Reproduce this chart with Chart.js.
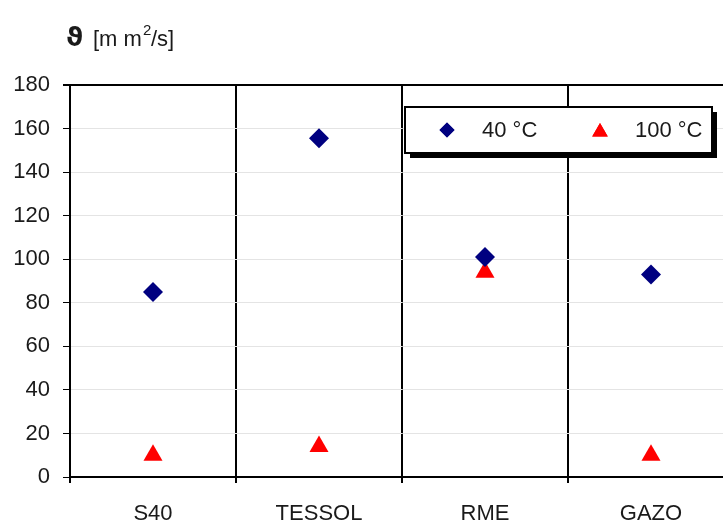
<!DOCTYPE html>
<html>
<head>
<meta charset="utf-8">
<script src="https://cdn.jsdelivr.net/npm/chart.js@4"></script>
<style>
  html, body { margin: 0; padding: 0; background: #fff; overflow: hidden; }
  #wrap { width: 745px; height: 523px; }
</style>
</head>
<body>
<div id="wrap"><canvas id="chart" width="745" height="523"></canvas></div>
<script>
const fuels = ['S40', 'TESSOL', 'RME', 'GAZO'];
const visc40 = [85, 155.5, 101, 93];
const visc100 = [10, 14, 94, 10];
const yTicks = [0, 20, 40, 60, 80, 100, 120, 140, 160, 180];

const FONT = 'Liberation Sans, Arial, sans-serif';

// y label above the axis + the framed legend with its drop shadow
const extras = {
    id: 'extras',
    afterDraw(chart) {
        const ctx = chart.ctx;
        ctx.save();
        ctx.fillStyle = '#1a1a1a';
        ctx.textBaseline = 'alphabetic';
        ctx.textAlign = 'left';
        ctx.font = 'bold 26px DejaVu Sans, ' + FONT;
        ctx.fillText('\u03D1', 66, 46);
        ctx.font = '22px ' + FONT;
        ctx.fillText('[m m', 93, 46);
        let w = ctx.measureText('[m m').width;
        ctx.font = '15px ' + FONT;
        ctx.fillText('2', 93 + w + 1, 35);
        ctx.font = '22px ' + FONT;
        ctx.fillText('/s]', 93 + w + 9, 46);

        // legend box
        const bx = 405, by = 107, bw = 307, bh = 46;
        ctx.fillStyle = '#000';
        ctx.fillRect(bx + 5, by + 5, bw, bh);
        ctx.fillStyle = '#fff';
        ctx.fillRect(bx, by, bw, bh);
        ctx.lineWidth = 2;
        ctx.strokeStyle = '#000';
        ctx.strokeRect(bx, by, bw, bh);

        const ds = chart.data.datasets;
        const items = [
            { x: 447, tx: 482, r: 7.5, d: ds[0] },
            { x: 600, tx: 635, r: 9, d: ds[1] }
        ];
        const cy = by + bh / 2;
        items.forEach(it => {
            ctx.fillStyle = it.d.backgroundColor;
            Chart.helpers.drawPoint(ctx, { pointStyle: it.d.pointStyle, radius: it.r, borderWidth: 0, rotation: 0 }, it.x, it.d.pointStyle === 'triangle' ? cy + 2 : cy);
            ctx.fill();
            ctx.fillStyle = '#1a1a1a';
            ctx.font = '22px ' + FONT;
            ctx.textBaseline = 'middle';
            ctx.fillText(it.d.label, it.tx, cy + 1);
        });
        ctx.restore();
    }
};

new Chart(document.getElementById('chart'), {
    type: 'line',
    data: {
        labels: fuels,
        datasets: [
            {
                label: '40 °C',
                data: visc40,
                showLine: false,
                pointStyle: 'rectRot',
                pointRadius: 10,
                pointBorderWidth: 0,
                backgroundColor: '#000080',
                borderColor: '#000080'
            },
            {
                label: '100 °C',
                data: visc100,
                showLine: false,
                pointStyle: 'triangle',
                pointRadius: 11,
                pointBorderWidth: 0,
                backgroundColor: '#ff0000',
                borderColor: '#ff0000'
            }
        ]
    },
    options: {
        responsive: false,
        animation: false,
        layout: { padding: { top: 85, right: 6, left: 0, bottom: 0 } },
        plugins: {
            legend: { display: false },
            tooltip: { enabled: false }
        },
        scales: {
            x: {
                offset: true,
                grid: {
                    offset: true,
                    color: '#000',
                    lineWidth: 2,
                    tickLength: 6,
                    tickColor: '#000'
                },
                border: { color: '#000', width: 2 },
                ticks: {
                    color: '#1a1a1a',
                    font: { family: FONT, size: 22 },
                    padding: 18,
                    maxRotation: 0
                },
                afterFit: s => { s.height = 46; }
            },
            y: {
                min: 0,
                max: 180,
                afterBuildTicks: s => { s.ticks = yTicks.map(v => ({ value: v })); },
                grid: {
                    color: c => c.tick && c.tick.value === 180 ? '#000' : '#e4e4e4',
                    lineWidth: c => c.tick && c.tick.value === 180 ? 2 : 1,
                    tickLength: 7,
                    tickColor: '#000'
                },
                border: { color: '#000', width: 2 },
                ticks: {
                    color: '#1a1a1a',
                    font: { family: FONT, size: 22 },
                    padding: 13
                },
                afterFit: s => { s.width = 70; }
            }
        }
    },
    plugins: [extras]
});
</script>
</body>
</html>
